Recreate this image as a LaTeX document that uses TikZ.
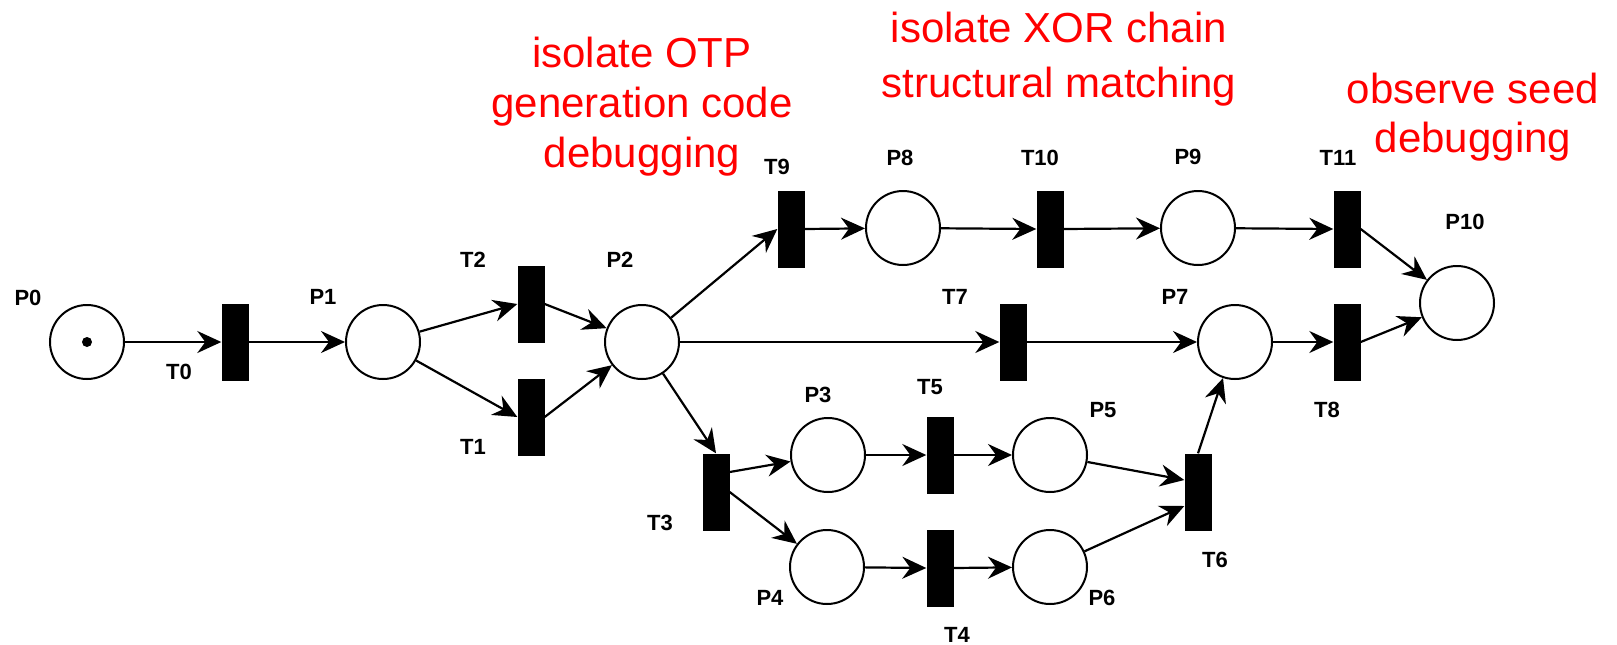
\documentclass[tikz,border=0pt]{standalone}
\usepackage{fontspec}
\setmainfont{Liberation Sans}
\usetikzlibrary{arrows.meta}

\tikzset{
  place/.style={draw, circle, line width=2pt, minimum size=74pt, inner sep=0pt},
  trans/.style={fill=black, rectangle, minimum width=27pt, minimum height=77pt, inner sep=0pt},
  token/.style={fill=black, circle, minimum size=10pt, inner sep=0pt},
  tag/.style={font=\bfseries\fontsize{22}{24}\selectfont, inner sep=0pt},
  note/.style={red, align=center, anchor=base, inner sep=0pt},
  arc/.style={-{Stealth[length=24pt, width=22pt, inset=8pt]}, line width=2.2pt}
}

\begin{document}
\begin{tikzpicture}[x=1pt, y=-1pt]
  \useasboundingbox (0,0) rectangle (1617,645);

  % Places
  \node[place] (P0) at (87,342) {};
  \node[token] (tok) at (87,342) {};
  \node[place] (P1) at (383,342) {};
  \node[place] (P2) at (642,342) {};
  \node[place] (P3) at (828,455) {};
  \node[place] (P4) at (827,567) {};
  \node[place] (P5) at (1050,455) {};
  \node[place] (P6) at (1050,567) {};
  \node[place] (P7) at (1235,342) {};
  \node[place] (P8) at (903,228) {};
  \node[place] (P9) at (1198,228) {};
  \node[place] (P10) at (1457,303) {};

  % Transitions
  \node[trans] (T0) at (235,342) {};
  \node[trans] (T1) at (531,417) {};
  \node[trans] (T2) at (531,304) {};
  \node[trans] (T3) at (716,492) {};
  \node[trans] (T4) at (940,568) {};
  \node[trans] (T5) at (940,455) {};
  \node[trans] (T6) at (1198,492) {};
  \node[trans] (T7) at (1013,342) {};
  \node[trans] (T8) at (1347,342) {};
  \node[trans] (T9) at (791,229) {};
  \node[trans] (T10) at (1050,229) {};
  \node[trans] (T11) at (1347,229) {};

  % Names
  \node[tag] (lP0) at (28,298) {P0};
  \node[tag] (lP1) at (323,297) {P1};
  \node[tag] (lP2) at (620,260) {P2};
  \node[tag] (lP3) at (818,395) {P3};
  \node[tag] (lP4) at (770,598) {P4};
  \node[tag] (lP5) at (1103,410) {P5};
  \node[tag] (lP6) at (1102,598) {P6};
  \node[tag] (lP7) at (1175,297) {P7};
  \node[tag] (lP8) at (900,158) {P8};
  \node[tag] (lP9) at (1188,157) {P9};
  \node[tag] (lP10) at (1465,222) {P10};
  \node[tag] (lT0) at (179,372) {T0};
  \node[tag] (lT1) at (473,447) {T1};
  \node[tag] (lT2) at (473,260) {T2};
  \node[tag] (lT3) at (660,523) {T3};
  \node[tag] (lT4) at (957,635) {T4};
  \node[tag] (lT5) at (930,387) {T5};
  \node[tag] (lT6) at (1215,560) {T6};
  \node[tag] (lT7) at (955,297) {T7};
  \node[tag] (lT8) at (1327,410) {T8};
  \node[tag] (lT9) at (777,167) {T9};
  \node[tag] (lT10) at (1040,158) {T10};
  \node[tag] (lT11) at (1338,158) {T11};

  % Arcs
  \draw[arc] (P0) -- (T0.west);
  \draw[arc] (T0.east) -- (P1);
  \draw[arc] (P1) -- (T2.west);
  \draw[arc] (P1) -- (T1.west);
  \draw[arc] (T2.east) -- (P2);
  \draw[arc] (T1.east) -- (P2);
  \draw[arc] (P2) -- (T9.west);
  \draw[arc] (P2) -- (T7.west);
  \draw[arc] (P2) -- (T3.north);
  \draw[arc] (T9.east) -- (P8);
  \draw[arc] (P8) -- (T10.west);
  \draw[arc] (T10.east) -- (P9);
  \draw[arc] (P9) -- (T11.west);
  \draw[arc] (T11.east) -- (P10);
  \draw[arc] (T7.east) -- (P7);
  \draw[arc] (P7) -- (T8.west);
  \draw[arc] (T8.east) -- (P10);
  \draw[arc] ([yshift=20pt]T3.east) -- (P3);
  \draw[arc] (T3.east) -- (P4);
  \draw[arc] (P3) -- (T5.west);
  \draw[arc] (T5.east) -- (P5);
  \draw[arc] (P4) -- (T4.west);
  \draw[arc] (T4.east) -- (P6);
  \draw[arc] (P5) -- ([yshift=12pt]T6.west);
  \draw[arc] (P6) -- ([yshift=-14pt]T6.west);
  \draw[arc] (T6.north) -- (P7);

  % Debugging notes (anchored at the last line's baseline)
  \node[note, font=\fontsize{42}{50}\selectfont] (otp) at (642,167)
    {isolate OTP\\generation code\\debugging};
  \node[note, font=\fontsize{42}{55}\selectfont] (xor) at (1059,97)
    {isolate XOR chain\\structural matching};
  \node[note, font=\fontsize{42}{49}\selectfont] (seed) at (1473,152)
    {observe seed\\debugging};
\end{tikzpicture}
\end{document}
